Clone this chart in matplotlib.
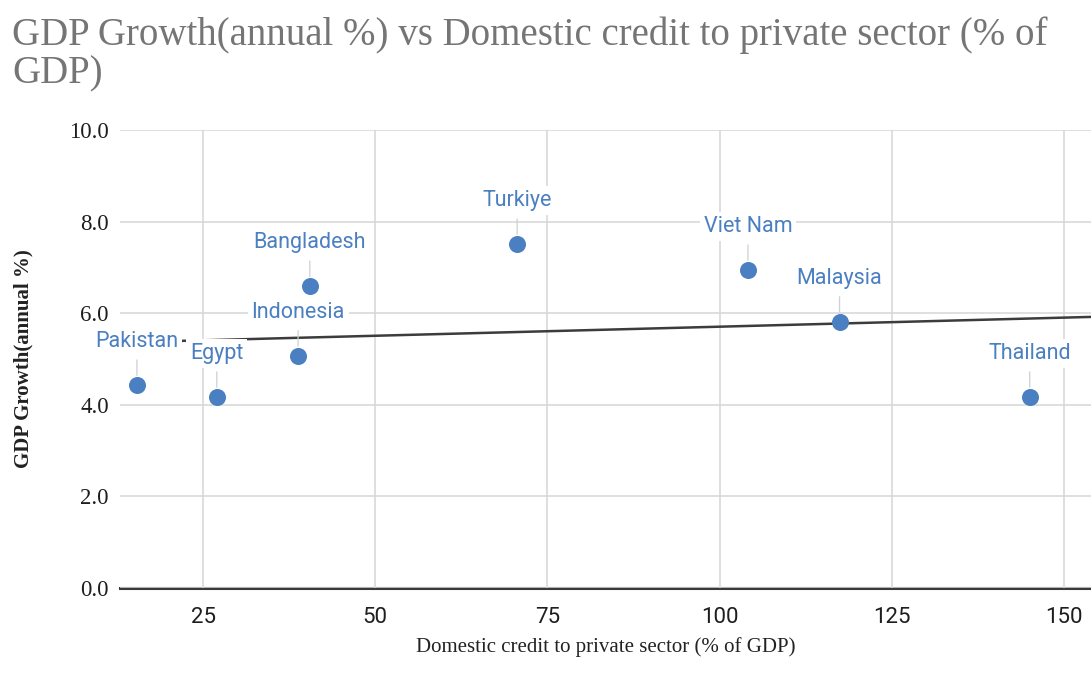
import numpy as np
import matplotlib.pyplot as plt

# data
countries = ['Pakistan', 'Egypt', 'Indonesia', 'Bangladesh', 'Turkiye',
             'Viet Nam', 'Malaysia', 'Thailand']
credit = [15.4, 27.0, 38.8, 40.5, 70.6, 104.1, 117.4, 145.0]
gdp_growth = [4.43, 4.17, 5.07, 6.59, 7.51, 6.94, 5.81, 4.17]
y_ticks = [0, 2, 4, 6, 8, 10]
x_ticks = [25, 50, 75, 100, 125, 150]

blue = '#4a7fc1'
serif = 'Liberation Serif'
sans = 'Roboto'

fig = plt.figure(figsize=(10.91, 6.85), dpi=100)
ax = fig.add_axes([0.110, 0.1416, 0.890, 0.6686])

xlim = (12.95, 153.9)
ax.set_xlim(xlim)
ax.set_ylim(0, 10)

# grid
ax.set_yticks(y_ticks)
ax.set_xticks(x_ticks)
ax.grid(True, color='#d6d6d6', lw=1.1, zorder=0)
ax.axhline(0, color='#3a3a3a', lw=2.2, zorder=1, clip_on=False)
for s in ax.spines.values():
    s.set_visible(False)
ax.tick_params(length=0)
ax.tick_params(axis='y', pad=8)
ax.tick_params(axis='x', pad=14)
ax.set_yticklabels(['%.1f' % v for v in y_ticks], fontfamily=serif,
                   fontsize=16.5, color='#1e1e1e')
ax.set_xticklabels([str(v) for v in x_ticks], fontfamily=sans,
                   fontsize=16, color='#1e1e1e')

# linear trendline
slope, icpt = np.polyfit(credit, gdp_growth, 1)
tx = np.array(xlim)
ax.plot(tx, slope * tx + icpt, color='#3c3c3c', lw=1.8, zorder=2)

ax.scatter(credit, gdp_growth, s=150, color=blue, zorder=3, lw=0)

for name, x, y in zip(countries, credit, gdp_growth):
    ax.annotate(name, xy=(x, y), xytext=(0, 31.5), textcoords='offset points',
                ha='center', va='center', fontfamily=sans, fontsize=15.5,
                color=blue, zorder=5,
                bbox=dict(boxstyle='square,pad=0.18', fc='white', ec='none'),
                arrowprops=dict(arrowstyle='-', color='#d0d0d0', lw=0.9,
                                shrinkA=3, shrinkB=7))

ax.set_xlabel('Domestic credit to private sector (% of GDP)', fontfamily=serif,
              fontsize=15, color='#222222', labelpad=6)
ax.set_ylabel('GDP Growth(annual %)', fontfamily=serif, fontsize=15,
              fontweight='bold', color='#222222', labelpad=26)

fig.text(12 / 1091, 1 - 16 / 685,
         'GDP Growth(annual %) vs Domestic credit to private sector (% of\nGDP)',
         ha='left', va='top', fontfamily=serif, fontsize=28, color='#757575',
         linespacing=1.05)

fig.savefig('out.png', dpi=100)
